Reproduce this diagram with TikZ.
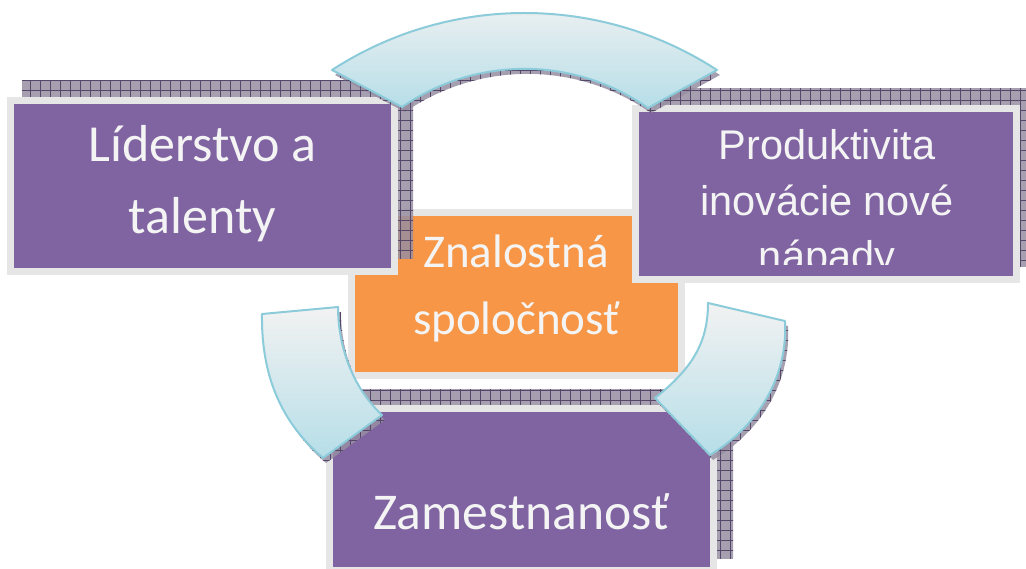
\documentclass[tikz,border=0pt]{standalone}
\usepackage{fontspec}
\setmainfont{Carlito}
\newfontfamily\arialfont{Liberation Sans}
\definecolor{purp}{HTML}{8064A2}
\definecolor{orng}{HTML}{F79646}
\definecolor{framegray}{HTML}{E6E6E6}
\definecolor{arrline}{HTML}{8CCBDA}
\definecolor{arrtop}{HTML}{F2F2F2}
\definecolor{arrbot}{HTML}{B6DEE8}
\definecolor{shad}{HTML}{978EA1}
\definecolor{shadline}{HTML}{54476A}
\definecolor{txt}{HTML}{F4F4F4}
\newcommand{\hatchfill}[1]{%
  \begin{scope}
    \clip #1;
    \fill[shad, fill opacity=0.85] (-10,590) rectangle (1040,-10);
    \draw[shadline, line width=0.6pt, step=10pt] (-10,590) grid (1040,-10);
  \end{scope}}
\def\toparrow{(332,70) .. controls (449,-6) and (600,-6) .. (717,70) -- (648,108) .. controls (574,56) and (476,56) .. (402,107) -- cycle}
\def\leftarrowpath{(262,314) -- (338,307) .. controls (338,350) and (355,390) .. (382,415) -- (323,458) .. controls (283,424) and (261,378) .. (262,314) -- cycle}
\def\rightarrowpath{(708,303) -- (785,321) .. controls (788,375) and (760,425) .. (710,455) -- (655,398) .. controls (690,370) and (708,345) .. (708,303) -- cycle}
\begin{document}
\begin{tikzpicture}[x=1pt,y=-1pt,
  box/.style={draw=framegray, line width=7pt, inner sep=0pt, outer sep=0pt},
  purplebox/.style={box, fill=purp},
  orangebox/.style={box, fill=orng},
  lbl/.style={text=txt, anchor=base, inner sep=0pt},
  arr/.style={draw=arrline, line width=2pt, line join=round, top color=arrtop, bottom color=arrbot}]
\useasboundingbox (0,0) rectangle (1026,569);
% centre box
\node[orangebox, minimum width=330pt, minimum height=163pt] (center) at (516.5,294) {};
% shadows of the purple boxes
\hatchfill{(22,81) rectangle (413,259)}
\hatchfill{(647,89) rectangle (1035,267)}
\hatchfill{(341,390) rectangle (733,558)}
% purple boxes
\node[purplebox, minimum width=384pt, minimum height=171pt] (lead) at (202.5,186) {};
\node[purplebox, minimum width=381pt, minimum height=171pt] (prod) at (826,194) {};
\node[purplebox, minimum width=384pt, minimum height=162pt] (empl) at (521.5,489.5) {};
% texts
\node[lbl, font=\fontsize{52}{60}\selectfont] (lead1) at (202.5,162) {Líderstvo a};
\node[lbl, font=\fontsize{52}{60}\selectfont] (lead2) at (202.5,234) {talenty};
\node[lbl, font=\fontsize{47}{56}\selectfont] (cent1) at (516,268) {Znalostná};
\node[lbl, font=\fontsize{47}{56}\selectfont] (cent2) at (516.5,335) {spoločnosť};
\node[lbl, font=\fontsize{51.6}{60}\selectfont] (empl1) at (521,529) {Zamestnanosť};
\begin{scope}
  \clip (638,112) rectangle (1015,265);
  \node[lbl, font=\arialfont\fontsize{41.5}{50}\selectfont] (prod1) at (827,160) {Produktivita};
  \node[lbl, font=\arialfont\fontsize{41.5}{50}\selectfont] (prod2) at (827,216) {inovácie nové};
  \node[lbl, font=\arialfont\fontsize{41.5}{50}\selectfont] (prod3) at (827,271) {nápady};
\end{scope}
% arrow shadows
\hatchfill{[shift={(3,5)}] \toparrow}
\hatchfill{[shift={(3,5)}] \leftarrowpath}
\hatchfill{[shift={(3,5)}] \rightarrowpath}
% arrows
\path[arr] \toparrow;
\path[arr] \leftarrowpath;
\path[arr] \rightarrowpath;
\end{tikzpicture}
\end{document}
